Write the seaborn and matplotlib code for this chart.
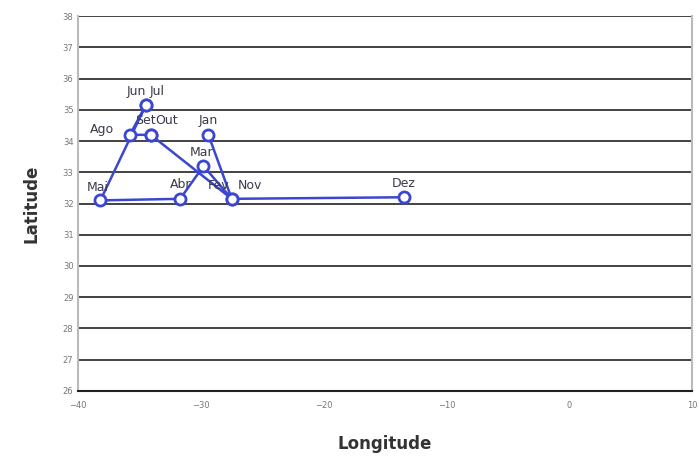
import pandas as pd
import seaborn as sns
import matplotlib.pyplot as plt

# Dados (posicao media por mes)
meses = ['Jan', 'Fev', 'Mar', 'Abr', 'Mai', 'Jun', 'Jul', 'Ago', 'Set', 'Out', 'Nov', 'Dez']
longitude = [-29.4, -27.5, -29.8, -31.7, -38.2, -34.5, -34.5, -35.8, -34.1, -34.1, -27.5, -13.5]
latitude = [34.2, 32.15, 33.2, 32.15, 32.1, 35.15, 35.15, 34.2, 34.2, 34.2, 32.15, 32.2]

x_ticks = [-40, -30, -20, -10, 0, 10]
y_ticks = list(range(26, 39))

df = pd.DataFrame({'mes': meses, 'longitude': longitude, 'latitude': latitude})

# deslocamento dos rotulos (pixels)
offsets = {
    'Jan': (0, 14), 'Fev': (-13, 13), 'Mar': (-2, 14), 'Abr': (0, 14),
    'Mai': (-3, 13), 'Jun': (-9, 14), 'Jul': (11, 14), 'Ago': (-28, 5),
    'Set': (-5, 14), 'Out': (16, 14), 'Nov': (18, 13), 'Dez': (0, 14),
}

sns.set_theme(style='white')

fig = plt.figure(figsize=(6.99, 4.62), dpi=100)
ax = fig.add_axes([0.112, 0.154, 0.878, 0.811])

sns.lineplot(
    data=df,
    x='longitude',
    y='latitude',
    sort=False,
    estimator=None,
    color='#3b47d0',
    linewidth=1.8,
    marker='o',
    markersize=8,
    markerfacecolor='white',
    markeredgecolor='#3b47d0',
    markeredgewidth=2,
    ax=ax,
    zorder=3
)

for _, row in df.iterrows():
    ax.annotate(
        row['mes'],
        (row['longitude'], row['latitude']),
        xytext=offsets[row['mes']],
        textcoords='offset pixels',
        ha='center',
        va='center',
        fontsize=9,
        color='#3a3a4a',
        zorder=4
    )

ax.set_xlim(-40, 10)
ax.set_ylim(26, 38)
ax.set_xticks(x_ticks)
ax.set_yticks(y_ticks)
ax.tick_params(axis='both', labelsize=6, colors='#777777', length=4)
ax.tick_params(axis='x', direction='inout', color='#222222', pad=5)
ax.tick_params(axis='y', length=0)

for y in y_ticks:
    ax.axhline(y, color='#222222', linewidth=1.2, zorder=1)

for side in ['left', 'right']:
    ax.spines[side].set_color('#bbbbbb')
    ax.spines[side].set_linewidth(1.5)
ax.spines['top'].set_visible(False)
ax.spines['bottom'].set_color('#222222')
ax.spines['bottom'].set_linewidth(1.5)

ax.set_xlabel('Longitude', fontsize=12, fontweight='bold', color='#333333', labelpad=18)
ax.set_ylabel('Latitude', fontsize=12, fontweight='bold', color='#333333', labelpad=16)

fig.savefig('out.png', dpi=100)
